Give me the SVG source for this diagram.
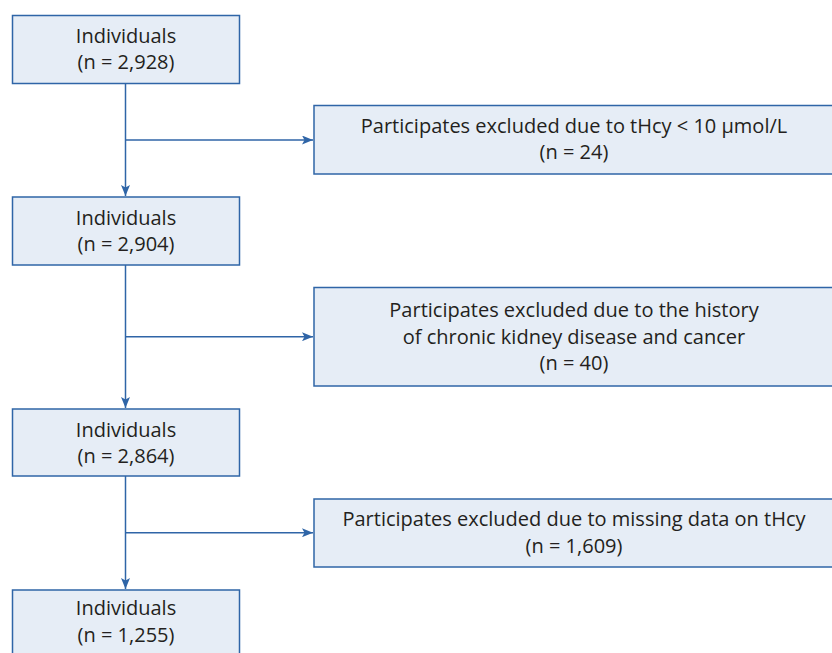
<svg xmlns="http://www.w3.org/2000/svg" width="832" height="653" viewBox="0 0 832 653">
<defs>
<style>
.box{fill:#e6edf6;stroke:#2f65a7;stroke-width:1.5}
.t{font-family:"Open Sans","Noto Sans","Liberation Sans",sans-serif;font-size:20px;fill:#231f20;text-anchor:middle}
.c{stroke:#2f65a7;stroke-width:1.5;fill:none}
</style>
<marker id="ah" markerWidth="11" markerHeight="9" refX="11" refY="4.5" orient="auto" markerUnits="userSpaceOnUse">
<path d="M0,0 L11,4.5 L0,9 L2.5,4.5 Z" fill="#2f65a7"/>
</marker>
</defs>
<g id="connectors">
<path class="c" d="M125.5,83 V196" marker-end="url(#ah)"/>
<path class="c" d="M125.5,140 H313" marker-end="url(#ah)"/>
<path class="c" d="M125.5,265 V408" marker-end="url(#ah)"/>
<path class="c" d="M125.5,336.7 H313" marker-end="url(#ah)"/>
<path class="c" d="M125.5,476 V589" marker-end="url(#ah)"/>
<path class="c" d="M125.5,532.7 H313" marker-end="url(#ah)"/>
</g>
<g id="n1">
<rect class="box" x="12.5" y="15.5" width="227" height="68"/>
<text class="t" x="126" y="43">Individuals</text>
<text class="t" x="126" y="69">(n = 2,928)</text>
</g>
<g id="e1">
<rect class="box" x="314" y="105.5" width="522" height="68.5"/>
<text class="t" x="574" y="133">Participates excluded due to tHcy &lt; 10 μmol/L</text>
<text class="t" x="574" y="159">(n = 24)</text>
</g>
<g id="n2">
<rect class="box" x="12.5" y="197" width="227" height="68"/>
<text class="t" x="126" y="225">Individuals</text>
<text class="t" x="126" y="251">(n = 2,904)</text>
</g>
<g id="e2">
<rect class="box" x="314" y="287.5" width="522" height="98.5"/>
<text class="t" x="574" y="317">Participates excluded due to the history</text>
<text class="t" x="574" y="343.5">of chronic kidney disease and cancer</text>
<text class="t" x="574" y="370">(n = 40)</text>
</g>
<g id="n3">
<rect class="box" x="12.5" y="409" width="227" height="67"/>
<text class="t" x="126" y="437">Individuals</text>
<text class="t" x="126" y="463">(n = 2,864)</text>
</g>
<g id="e3">
<rect class="box" x="314" y="499" width="522" height="68"/>
<text class="t" x="574" y="526">Participates excluded due to missing data on tHcy</text>
<text class="t" x="574" y="553">(n = 1,609)</text>
</g>
<g id="n4">
<rect class="box" x="12.5" y="590" width="227" height="70"/>
<text class="t" x="126" y="615">Individuals</text>
<text class="t" x="126" y="642">(n = 1,255)</text>
</g>
</svg>
